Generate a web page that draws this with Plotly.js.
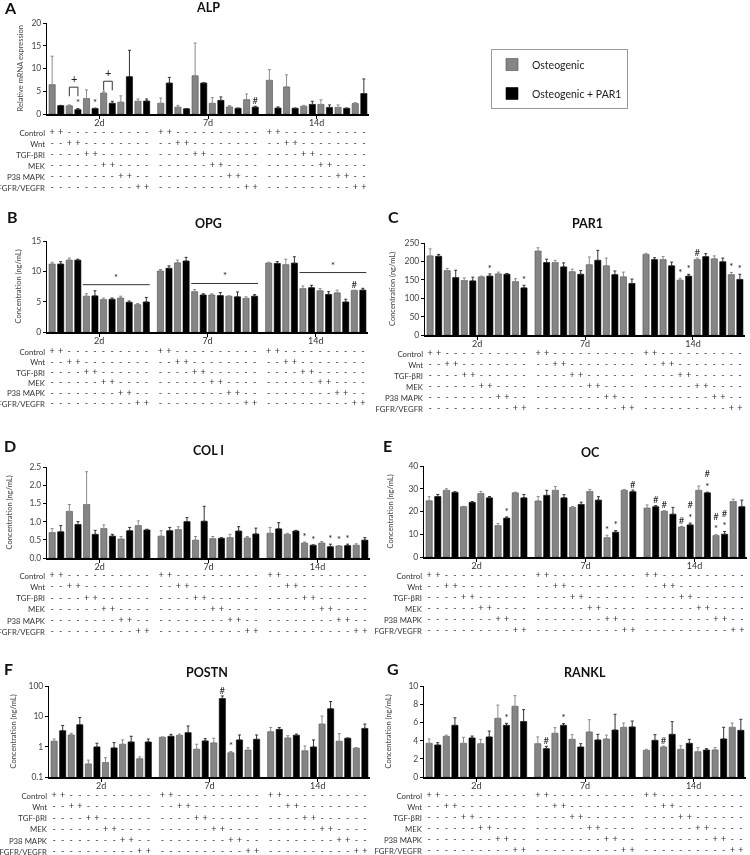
<!DOCTYPE html>
<html>
<head>
<meta charset="utf-8">
<script src="https://cdn.plot.ly/plotly-3.0.1.min.js"></script>
<style>
html,body{margin:0;padding:0;background:#fff}
#graph{filter:grayscale(100%)}
</style>
</head>
<body>
<div id="graph" style="width:750px;height:855px"></div>
<script>
const days = ['2d', '7d', '14d'];
const treatments = ['Control', 'Wnt', 'TGF-βRI', 'MEK', 'P38 MAPK', 'FGFR/VEGFR'];
const conditions = ['Osteogenic', 'Osteogenic + PAR1'];

// per day: Control, Control+PAR1, Wnt, Wnt+PAR1, ... (12 bars) x 3 days
const alpMean = [6.45,1.85,1.8,0.95,3.4,1.2,4.6,2.35,2.6,8.2,2.8,2.85,
                 2.35,6.8,1.5,1.15,8.4,6.8,2.35,3.0,1.55,1.25,3.15,1.5,
                 7.4,1.3,5.95,1.25,1.7,2.1,2.1,1.45,1.45,1.25,2.3,4.5];
const alpErr  = [6.25,0.05,0.2,0.25,1.9,0.1,0.4,0.45,1.4,5.8,0.5,0.45,
                 1.15,1.25,0.4,0.05,7.2,0.05,1.25,0.75,0.3,0.05,1.25,0.2,
                 2.35,0.25,2.65,0.05,0.2,0.7,1.0,0.55,0.55,0.05,0.2,3.2];
const alpMarks = ['','','','*','','*','','','','','','',
                  '','','','','','','','','','','','#',
                  '','','','','','','','','','','',''];

const opgMean = [11.2,11.2,11.85,11.85,5.9,5.95,5.35,5.4,5.6,4.9,4.5,4.95,
                 10.05,10.5,11.4,11.7,6.65,6.1,6.1,6.0,5.9,5.8,5.55,5.9,
                 11.35,11.3,11.1,11.35,7.15,7.3,6.8,6.2,6.45,4.95,6.85,6.9];
const opgErr  = [0.3,0.4,0.35,0.15,0.4,0.85,0.25,0.2,0.3,0.2,0.2,0.75,
                 0.25,0.4,0.45,0.6,0.35,0.2,0.2,0.5,0.05,0.8,0.25,0.25,
                 0.15,0.3,0.9,1.05,0.45,0.4,0.35,0.45,0.45,0.45,0.05,0.3];
const opgMarks = ['','','','','','','','','','','','',
                  '','','','','','','','','','','','',
                  '','','','','','','','','','','#',''];

const par1Mean = [215,214,175,156,148,147,158,160,166,165,145,128,
                  228,197,197,185,172,165,191,203,188,164,158,140,
                  219,205,205,188,149,160,205,213,207,199,164,151];
const par1Err  = [19,5,6,20,7,10,2,6,5,2,8,7,
                  9,9,6,11,7,10,21,27,21,10,13,12,
                  3,5,8,10,5,5,4,8,8,10,6,14];
const par1Marks = ['','','','','','','','*','','','','*',
                   '','','','','','','','','','','','',
                   '','','','','*','*','#','','','','*','*'];

const col1Mean = [0.70,0.72,1.28,0.92,1.47,0.65,0.81,0.60,0.52,0.75,0.89,0.77,
                  0.60,0.75,0.78,1.00,0.49,1.01,0.53,0.54,0.56,0.74,0.55,0.66,
                  0.68,0.80,0.65,0.74,0.41,0.35,0.41,0.31,0.33,0.34,0.35,0.49];
const col1Err  = [0.11,0.17,0.19,0.08,0.9,0.11,0.10,0.05,0.07,0.09,0.13,0.02,
                  0.15,0.09,0.08,0.11,0.10,0.41,0.06,0.02,0.09,0.12,0.04,0.16,
                  0.16,0.17,0.03,0.02,0.03,0.01,0.04,0.07,0.01,0.04,0.04,0.07];
const col1Marks = ['','','','','','','','','','','','',
                   '','','','','','','','','','','','',
                   '','','','','*','*','','*','*','*','',''];

const ocMean = [24.7,26.6,29.3,28.4,22.1,24.0,27.9,26.0,13.8,17.1,28.2,26.0,
                24.6,27.1,29.3,26.0,21.8,23.1,28.8,25.0,8.5,10.9,29.3,28.7,
                21.5,22.1,20.1,18.8,13.2,14.1,29.3,28.2,9.4,10.0,24.4,22.1];
const ocErr  = [1.8,0.9,0.7,0.3,0.2,0.4,0.9,0.6,0.9,0.5,0.3,1.5,
                2.0,2.2,1.7,1.4,0.4,1.0,0.9,1.5,1.1,0.7,0.4,0.7,
                1.4,0.5,0.3,3.0,0.3,0.8,1.9,0.3,0.5,1.2,1.0,2.9];
const ocMarks = ['','','','','','','','','','*','','',
                 '','','','','','','','','*','*','','#',
                 '','#','#','','#','#<br>*','','#<br>*','#<br>*','#<br>*','',''];

const postnMean = [1.51,3.37,2.43,5.3,0.27,0.98,0.30,0.91,1.2,1.43,0.40,1.43,
                   2.04,2.2,2.37,2.9,0.82,1.55,1.33,38.5,0.63,1.67,0.77,1.75,
                   3.12,3.72,1.94,2.37,0.73,0.98,5.56,17.7,1.51,1.89,0.89,4.0];
const postnErr  = [0.28,1.63,0.32,3.9,0.09,0.32,0.13,0.45,0.47,0.77,0.06,0.36,
                   0.05,0.35,0.23,1.9,0.38,0.29,0.56,8.5,0.06,0.76,0.16,0.68,
                   1.18,0.58,0.36,0.23,0.33,0.69,4.64,13.0,1.19,0.04,0.04,1.56];
const postnMarks = ['','','','','','','','','','','','',
                    '','','','','','','','#','*','','','',
                    '','','','','','','','','','','',''];

const ranklMean = [3.7,3.52,4.47,5.68,3.7,4.29,3.66,4.4,6.45,5.68,7.77,6.1,
                   3.66,3.11,4.8,5.68,4.14,3.3,4.95,4.07,4.18,5.16,5.46,5.5,
                   2.93,4.03,3.3,4.69,3.04,3.7,2.78,2.97,2.97,4.18,5.46,5.13];
const ranklErr  = [0.48,0.25,0.13,0.82,0.66,0.21,0.48,0.65,1.45,0.22,1.17,1.3,
                   0.74,0.26,0.62,0.18,0.51,0.36,1.35,0.62,0.42,1.73,0.47,0.65,
                   0.11,0.62,0.1,1.39,0.4,0.44,0.44,0.14,0.25,1.28,0.47,1.21];
const ranklMarks = ['','','','','','','','','','*','','',
                    '','#','','*','','','','','','','','',
                    '','','#','','','','','','','','',''];

// ALP brackets (2d bar pairs) and OPG group lines
const alpBrackets = [[2, 3], [6, 7]];
const alpBracketLevel = [5.9, 7.2];
const opgLineSpan = [4, 11];
const opgLineLevel = [7.8, 8.0, 9.8];

const W = 750, H = 855;
const nb = 12, gap = 12.65;
const xs = [];
for (let g = 0; g < days.length; g++) for (let i = 0; i < nb; i++) xs.push(g * gap + i);
const dayCenters = days.map((d, g) => g * gap + (nb - 1) / 2);

const panels = [
  {id:'A', title:'ALP', mean:alpMean, err:alpErr, marks:alpMarks, ytitle:'Relative mRNA expression',
   range:[0,20], dtick:5, box:[47,369,23,114], rows:[133,188], head:[208,8], letter:[10,8], ytx:20},
  {id:'B', title:'OPG', mean:opgMean, err:opgErr, marks:opgMarks, ytitle:'Concentration (ng/mL)',
   range:[0,15], dtick:5, box:[47,368,241,332], rows:[352,404], head:[208,223], letter:[12,217], ytx:18},
  {id:'C', title:'PAR1', mean:par1Mean, err:par1Err, marks:par1Marks, ytitle:'Concentration (ng/mL)',
   range:[0,250], dtick:50, box:[425,745,243,335], rows:[354,409], head:[587,223], letter:[393,217], ytx:392},
  {id:'D', title:'COL I', mean:col1Mean, err:col1Err, marks:col1Marks, ytitle:'Concentration (ng/mL)',
   range:[0,2.5], dtick:0.5, fmt:'.1f', box:[47,370,467,558], rows:[576,632], head:[208,450], letter:[10,445], ytx:9},
  {id:'E', title:'OC', mean:ocMean, err:ocErr, marks:ocMarks, ytitle:'Concentration (ng/mL)',
   range:[0,40], dtick:10, box:[424,747,466,557], rows:[576,631], head:[590,452], letter:[387,445], ytx:390},
  {id:'F', title:'POSTN', mean:postnMean, err:postnErr, marks:postnMarks, ytitle:'Concentration (ng/mL)',
   log:true, range:[-1,2], box:[49,370,686,777], rows:[796,852], head:[207,672], letter:[8,668], ytx:13},
  {id:'G', title:'RANKL', mean:ranklMean, err:ranklErr, marks:ranklMarks, ytitle:'Concentration (ng/mL)',
   range:[0,10], dtick:2, box:[424,746,686,777], rows:[796,851], head:[585,672], letter:[393,668], ytx:388}
];

const font = 'Lato, "DejaVu Sans", sans-serif';
const traces = [];
const layout = {
  width: W, height: H,
  margin: {l:0, r:0, t:0, b:0},
  paper_bgcolor: '#fff', plot_bgcolor: '#fff',
  font: {family: font, color: '#333'},
  barmode: 'overlay',
  showlegend: true,
  legend: {x: 491/W, y: 1 - 49/H, xanchor: 'left', yanchor: 'top',
           bordercolor: '#999', borderwidth: 1, font: {size: 10.5, color: '#222'},
           bgcolor: '#fff'},
  annotations: [], shapes: []
};

panels.forEach((p, k) => {
  const n = k + 1;
  const sfx = n === 1 ? '' : String(n);
  const xa = 'x' + sfx, ya = 'y' + sfx, ta = 'y' + (n + 7);
  const [x0, x1, y0, y1] = p.box;

  const gx = [], gy = [], ge = [], bx = [], by = [], be = [];
  p.mean.forEach((v, i) => {
    if (i % 2 === 0) { gx.push(xs[i]); gy.push(v); ge.push(p.err[i]); }
    else { bx.push(xs[i]); by.push(v); be.push(p.err[i]); }
  });
  traces.push({type:'bar', x:gx, y:gy, xaxis:xa, yaxis:ya, width:0.72, name:conditions[0],
    legendgroup:'c0', showlegend:k === 0, hoverinfo:'skip',
    marker:{color:'#858585', line:{color:'#4d4d4d', width:0.6}},
    error_y:{type:'data', array:ge, arrayminus:ge.map(() => 0), symmetric:false,
             color:'#8c8c8c', thickness:1, width:1.5}});
  traces.push({type:'bar', x:bx, y:by, xaxis:xa, yaxis:ya, width:0.72, name:conditions[1],
    legendgroup:'c1', showlegend:k === 0, hoverinfo:'skip',
    marker:{color:'#000', line:{color:'#000', width:0.6}},
    error_y:{type:'data', array:be, arrayminus:be.map(() => 0), symmetric:false,
             color:'#333', thickness:1, width:1.5}});

  // significance marks above error bars
  const mx = [], my = [], mt = [];
  p.marks.forEach((m, i) => {
    if (m) { mx.push(xs[i]); my.push(p.mean[i] + p.err[i]); mt.push(m); }
  });
  traces.push({type:'scatter', mode:'text', x:mx, y:my, text:mt, xaxis:xa, yaxis:ya,
    textposition:'top center', textfont:{size:9.5, color:'#222', family:font},
    hoverinfo:'skip', showlegend:false, cliponaxis:false});

  // treatment +/- table
  const tx = [], ty = [], tt = [];
  treatments.forEach((t, r) => {
    xs.forEach((x, i) => {
      tx.push(x); ty.push(t);
      tt.push(Math.floor((i % nb) / 2) === r ? '+' : '-');
    });
  });
  traces.push({type:'scatter', mode:'text', x:tx, y:ty, text:tt, xaxis:xa, yaxis:ta,
    textfont:{size:9, color:'#333', family:font},
    hoverinfo:'skip', showlegend:false, cliponaxis:false});

  layout['xaxis' + sfx] = {
    domain:[x0 / W, x1 / W], anchor:ya, range:[-0.6, (days.length - 1) * gap + nb - 1 + 0.6],
    tickvals:dayCenters, ticktext:days, ticks:'outside', ticklen:3, tickcolor:'#000',
    ticklabelstandoff:-3,
    showline:true, linecolor:'#000', linewidth:1.6, showgrid:false, zeroline:false,
    tickfont:{size:9, color:'#333'}, fixedrange:true
  };
  const yax = {
    domain:[1 - y1 / H, 1 - y0 / H], anchor:xa, range:p.range,
    showline:true, linecolor:'#000', linewidth:1, ticks:'outside', ticklen:3, tickcolor:'#000',
    showgrid:false, zeroline:false, tickfont:{size:8.5, color:'#444'}, fixedrange:true
  };
  if (p.log) {
    yax.type = 'log';
    yax.tickvals = [0.1, 1, 10, 100];
    yax.ticktext = ['0.1', '1', '10', '100'];
  } else {
    yax.dtick = p.dtick; yax.tick0 = 0;
    if (p.fmt) yax.tickformat = p.fmt;
  }
  layout['yaxis' + sfx] = yax;

  const [r0, r1] = p.rows;
  const s = (r1 - r0) / (treatments.length - 1);
  const top = r0 - s / 2, bot = Math.min(H, r1 + s / 2);
  layout['yaxis' + (n + 7)] = {
    domain:[1 - bot / H, 1 - top / H], anchor:xa, type:'category',
    categoryorder:'array', categoryarray:treatments, range:[(bot - r0) / s, -0.5],
    showline:false, ticks:'', showgrid:false, zeroline:false, ticklabelstandoff:1,
    tickfont:{size:7.8, color:'#333'}, fixedrange:true
  };

  layout.annotations.push({xref:'paper', yref:'paper', x:p.ytx / W, y:1 - (y0 + y1) / 2 / H,
    text:p.ytitle, textangle:-90, showarrow:false, xanchor:'center', yanchor:'middle',
    font:{size:7.5, color:'#444', family:font}});
  layout.annotations.push({xref:'paper', yref:'paper', x:p.head[0] / W, y:1 - p.head[1] / H,
    text:'<b>' + p.title + '</b>', showarrow:false, xanchor:'center', yanchor:'middle',
    font:{size:12.5, color:'#111', family:font}});
  layout.annotations.push({xref:'paper', yref:'paper', x:p.letter[0] / W, y:1 - p.letter[1] / H,
    text:'<b>' + p.id + '</b>', showarrow:false, xanchor:'center', yanchor:'middle',
    font:{size:16, color:'#111', family:font}});
});

// ALP brackets with '+'
alpBrackets.forEach((pair, j) => {
  const xl = xs[pair[0]], xr = xs[pair[1]], lv = alpBracketLevel[j], leg = 2;
  layout.shapes.push({type:'path', xref:'x', yref:'y',
    path:`M ${xl} ${lv - leg} L ${xl} ${lv} L ${xr} ${lv} L ${xr} ${lv - leg}`,
    line:{color:'#333', width:1}});
  layout.annotations.push({xref:'x', yref:'y', x:(xl + xr) / 2, y:lv, text:'+',
    showarrow:false, yanchor:'bottom', font:{size:11, color:'#222', family:font}});
});

// OPG significance lines
opgLineLevel.forEach((lv, g) => {
  const xl = xs[g * nb + opgLineSpan[0]] - 0.4, xr = xs[g * nb + opgLineSpan[1]] + 0.4;
  layout.shapes.push({type:'line', xref:'x2', yref:'y2', x0:xl, x1:xr, y0:lv, y1:lv,
    line:{color:'#333', width:1}});
  layout.annotations.push({xref:'x2', yref:'y2', x:(xl + xr) / 2, y:lv, text:'*',
    showarrow:false, yanchor:'bottom', font:{size:9.5, color:'#222', family:font}});
});

Plotly.newPlot('graph', traces, layout, {staticPlot:true});
</script>
</body>
</html>
